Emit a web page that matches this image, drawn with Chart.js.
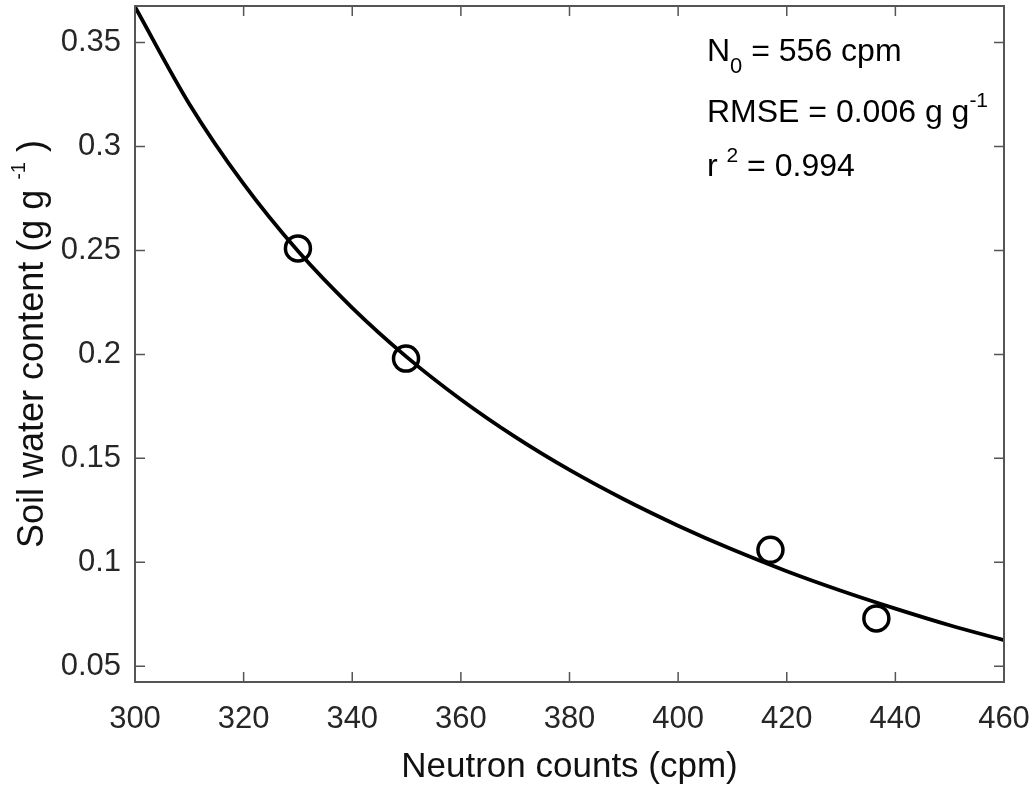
<!DOCTYPE html>
<html>
<head>
<meta charset="utf-8">
<script src="https://cdn.jsdelivr.net/npm/chart.js@4.4.1/dist/chart.umd.min.js"></script>
<style>
  html, body { margin: 0; padding: 0; background: #fff; }
  canvas { display: block; }
</style>
</head>
<body>
<canvas id="calib" width="1033" height="785"></canvas>
<script>
// fitted calibration curve
const curveN = [300, 310, 320, 330, 340, 350, 360, 370, 380, 390, 400, 410, 420, 430, 440, 450, 460];
const curveTheta = [0.3672, 0.3205, 0.2820, 0.2497, 0.2224, 0.1988, 0.1783, 0.1603, 0.1444, 0.1303, 0.1176, 0.1061, 0.0957, 0.0863, 0.0777, 0.0697, 0.0625];

// measured samples
const obsN = [330, 349.9, 417, 436.5];
const obsTheta = [0.251, 0.198, 0.106, 0.073];

const xTicks = [300, 320, 340, 360, 380, 400, 420, 440, 460];
const yTicks = [0.05, 0.1, 0.15, 0.2, 0.25, 0.3, 0.35];

const FONT = "'Liberation Sans', Arial, Helvetica, sans-serif";
const AXIS_GRAY = '#262626';

// draws a row of text pieces, each with its own size and vertical shift
function drawRuns(ctx, x, y, runs) {
    for (const r of runs) {
        ctx.font = r.size + 'px ' + FONT;
        ctx.fillText(r.t, x, y + (r.dy || 0));
        x += ctx.measureText(r.t).width;
    }
}

// no automatic padding for edge labels, the plot box is placed by hand
function zeroPadding(s) {
    s.paddingTop = 0;
    s.paddingBottom = 0;
    s.paddingLeft = 0;
    s.paddingRight = 0;
}

const boxAndTicks = {
    id: 'boxAndTicks',
    afterDraw(chart) {
        const { ctx, chartArea: a, scales: { x, y } } = chart;
        const len = 10;
        ctx.save();
        ctx.strokeStyle = '#555';
        ctx.lineWidth = 1.5;
        ctx.beginPath();
        for (const v of xTicks) {
            const px = x.getPixelForValue(v);
            ctx.moveTo(px, a.bottom); ctx.lineTo(px, a.bottom - len);
            ctx.moveTo(px, a.top); ctx.lineTo(px, a.top + len);
        }
        for (const v of yTicks) {
            const py = y.getPixelForValue(v);
            ctx.moveTo(a.left, py); ctx.lineTo(a.left + len, py);
            ctx.moveTo(a.right, py); ctx.lineTo(a.right - len, py);
        }
        ctx.stroke();
        ctx.lineWidth = 2;
        ctx.strokeRect(a.left, a.top, a.right - a.left, a.bottom - a.top);

        // y axis title with superscript
        ctx.fillStyle = '#111';
        ctx.textBaseline = 'alphabetic';
        ctx.textAlign = 'left';
        const yRuns = [
            { t: 'Soil water content (g g ', size: 36 },
            { t: '-1', size: 20, dy: -18 },
            { t: ' )', size: 36 }
        ];
        let total = 0;
        for (const r of yRuns) {
            ctx.font = r.size + 'px ' + FONT;
            total += ctx.measureText(r.t).width;
        }
        ctx.save();
        ctx.translate(a.left - 92, (a.top + a.bottom) / 2 + total / 2);
        ctx.rotate(-Math.PI / 2);
        drawRuns(ctx, 0, 0, yRuns);
        ctx.restore();

        // fit statistics
        ctx.fillStyle = '#000';
        const tx = a.left + 572;
        drawRuns(ctx, tx, a.top + 55, [
            { t: 'N', size: 32 },
            { t: '0', size: 22, dy: 12 },
            { t: ' = 556 cpm', size: 32 }
        ]);
        drawRuns(ctx, tx, a.top + 116, [
            { t: 'RMSE = 0.006 g g', size: 32 },
            { t: '-1', size: 21, dy: -15 }
        ]);
        drawRuns(ctx, tx, a.top + 170, [
            { t: 'r ', size: 32 },
            { t: '2', size: 21, dy: -14 },
            { t: ' = 0.994', size: 32 }
        ]);
        ctx.restore();
    }
};

new Chart(document.getElementById('calib'), {
    type: 'line',
    data: {
        datasets: [
            {
                label: 'fit',
                data: curveN.map((n, i) => ({ x: n, y: curveTheta[i] })),
                borderColor: '#000',
                borderWidth: 3.8,
                pointRadius: 0,
                cubicInterpolationMode: 'monotone',
                fill: false
            },
            {
                type: 'scatter',
                label: 'observed',
                data: obsN.map((n, i) => ({ x: n, y: obsTheta[i] })),
                borderColor: '#000',
                backgroundColor: 'rgba(0,0,0,0)',
                pointRadius: 12.5,
                pointBorderWidth: 3.5,
                pointHoverRadius: 12.5
            }
        ]
    },
    plugins: [boxAndTicks],
    options: {
        responsive: false,
        devicePixelRatio: 1,
        animation: false,
        layout: { autoPadding: false, padding: { top: 6, right: 29, left: 0, bottom: 0 } },
        plugins: {
            legend: { display: false },
            tooltip: { enabled: false }
        },
        scales: {
            x: {
                type: 'linear',
                min: 300,
                max: 460,
                afterBuildTicks: s => { s.ticks = xTicks.map(v => ({ value: v })); },
                afterFit: s => { s.height = 103; zeroPadding(s); },
                grid: { display: false, drawTicks: false },
                border: { display: false },
                ticks: {
                    color: AXIS_GRAY,
                    font: { family: FONT, size: 31 },
                    padding: 19,
                    maxRotation: 0,
                    autoSkip: false
                },
                title: {
                    display: true,
                    text: 'Neutron counts (cpm)',
                    color: '#111',
                    font: { family: FONT, size: 35, lineHeight: 1 },
                    padding: 0
                }
            },
            y: {
                type: 'linear',
                min: 0.0424,
                max: 0.3676,
                afterBuildTicks: s => { s.ticks = yTicks.map(v => ({ value: v })); },
                afterFit: s => { s.width = 135; zeroPadding(s); },
                grid: { display: false, drawTicks: false },
                border: { display: false },
                ticks: {
                    color: AXIS_GRAY,
                    font: { family: FONT, size: 31 },
                    padding: 14,
                    autoSkip: false,
                    callback: v => String(parseFloat(v.toFixed(2)))
                }
            }
        }
    }
});
</script>
</body>
</html>
